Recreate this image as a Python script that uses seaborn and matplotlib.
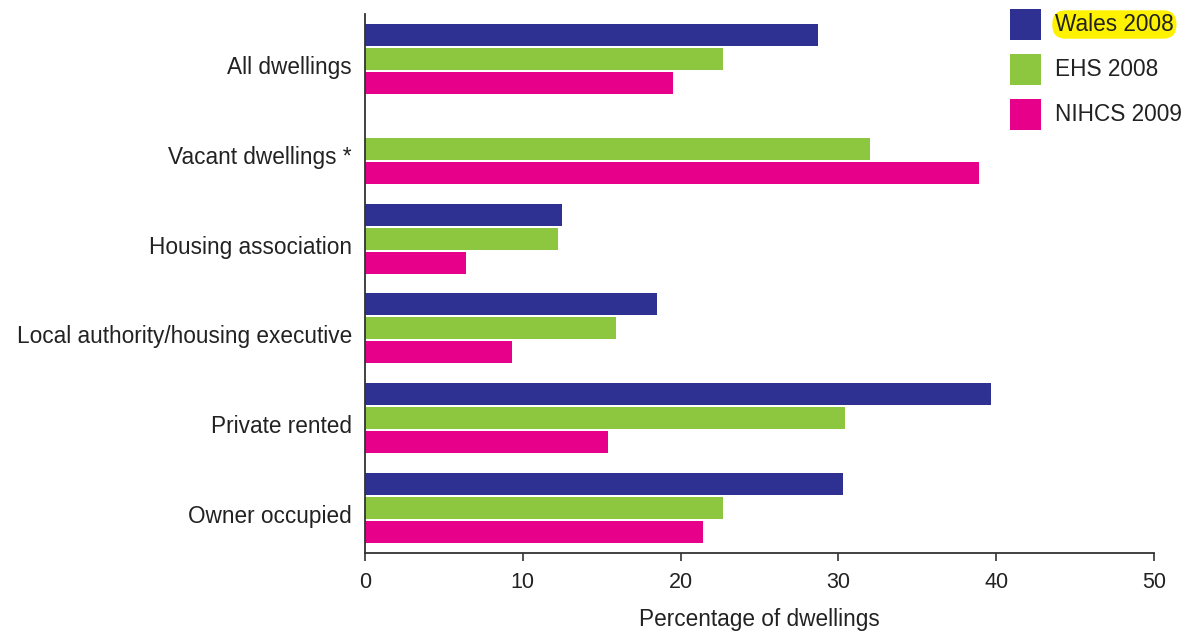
import numpy as np
import pandas as pd
import matplotlib
matplotlib.use("Agg")
import matplotlib.pyplot as plt
import matplotlib.transforms as mtransforms
from matplotlib.patches import Rectangle
import seaborn as sns

categories = ["All dwellings", "Vacant dwellings *", "Housing association",
              "Local authority/housing executive", "Private rented", "Owner occupied"]
series = ["Wales 2008", "EHS 2008", "NIHCS 2009"]
wales_2008 = [28.7, np.nan, 12.5, 18.5, 39.7, 30.3]
ehs_2008 = [22.7, 32.0, 12.2, 15.9, 30.4, 22.7]
nihcs_2009 = [19.5, 38.9, 6.4, 9.3, 15.4, 21.4]
x_ticks = [0, 10, 20, 30, 40, 50]

colors = ["#2E3192", "#8DC63F", "#E6008A"]
text_color = "#222222"
axis_color = "#333333"

df = pd.DataFrame({
    "category": categories * 3,
    "series": [s for s in series for _ in categories],
    "value": wales_2008 + ehs_2008 + nihcs_2009,
}).dropna()

sns.set_theme(style="white")
plt.rcParams["font.family"] = ["Liberation Sans", "DejaVu Sans"]
plt.rcParams["text.color"] = text_color

W, H = 1192, 634
fig = plt.figure(figsize=(W / 100, H / 100), dpi=100)
ax = fig.add_axes([365 / W, 1 - 553 / H, (1154 - 365) / W, (553 - 14) / H])

sns.barplot(data=df, x="value", y="category", hue="series",
            order=categories, hue_order=series, palette=colors,
            orient="h", width=0.8, gap=0.08, saturation=1, linewidth=0,
            legend=False, ax=ax)

ax.set_xlim(0, 50)
ax.set_ylim(5.5, -0.5)
ax.set_xticks(x_ticks)
ax.set_xticklabels([str(t) for t in x_ticks])

for side in ["top", "right"]:
    ax.spines[side].set_visible(False)
for side in ["left", "bottom"]:
    ax.spines[side].set_color(axis_color)
    ax.spines[side].set_linewidth(1.3)

ax.tick_params(axis="y", length=0, pad=9.5, labelsize=16.3, labelcolor=text_color)
ax.tick_params(axis="x", length=5.8, width=1.2, color=axis_color, direction="out",
               pad=8, labelsize=15.5, labelcolor=text_color, bottom=True)
ax.set_ylabel("")
ax.set_xlabel("Percentage of dwellings", fontsize=16.3, labelpad=11, color=text_color)

# category labels sit slightly below the centre of each bar group
shift = mtransforms.ScaledTranslation(0, -6 / 100, fig.dpi_scale_trans)
for lbl in ax.get_yticklabels():
    lbl.set_transform(lbl.get_transform() + shift)

# legend: coloured squares with labels, first label highlighted
for i, (name, col) in enumerate(zip(series, colors)):
    top = 9 + 45 * i
    fig.add_artist(Rectangle((1010 / W, 1 - (top + 31) / H), 31 / W, 31 / H,
                             facecolor=col, edgecolor="none", transform=fig.transFigure))
    t = fig.text(1055 / W, 1 - (top + 15.5) / H, name, fontsize=16.3,
                 va="center", ha="left", color=text_color)
    if i == 0:
        t.set_bbox(dict(boxstyle="round,pad=0.12,rounding_size=0.6",
                        facecolor="#FFF200", edgecolor="none"))

fig.savefig("out.png", dpi=100, facecolor="white")
